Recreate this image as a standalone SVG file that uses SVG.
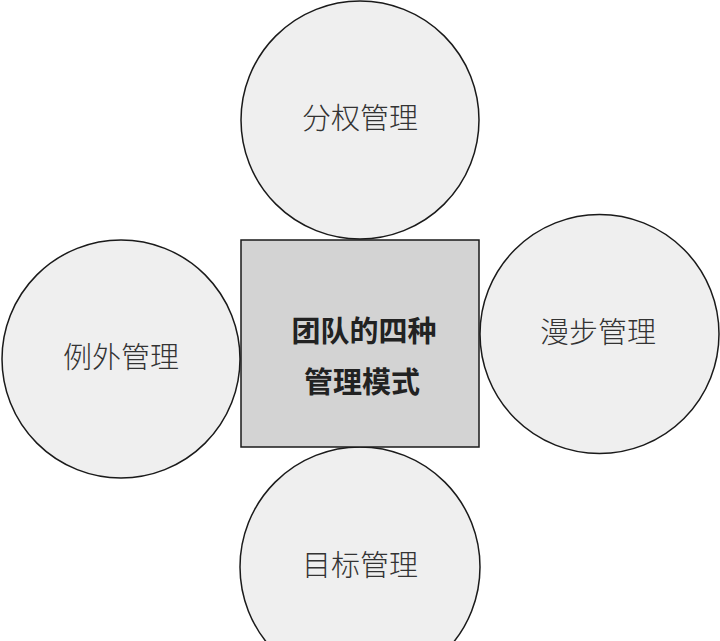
<svg xmlns="http://www.w3.org/2000/svg" width="720" height="641" viewBox="0 0 720 641">
  <style>
    .c { fill: #efefef; stroke: #1a1a1a; stroke-width: 1.5; }
    .r { fill: #d3d3d3; stroke: #1a1a1a; stroke-width: 1.5; }
    .t { font-family: "Noto Sans CJK SC", "Noto Sans", sans-serif; font-size: 29px; font-weight: 300; fill: #333; text-anchor: middle; }
    .b { font-family: "Noto Sans CJK SC", "Noto Sans", sans-serif; font-size: 29px; font-weight: 700; fill: #222; text-anchor: middle; }
  </style>
  <rect width="720" height="641" fill="#ffffff"/>
  <g id="connectors"></g>
  <g id="node-top">
    <circle class="c" cx="360" cy="120" r="119"/>
    <text class="t" x="360" y="129">分权管理</text>
  </g>
  <g id="node-left">
    <circle class="c" cx="121" cy="359" r="119"/>
    <text class="t" x="121" y="368">例外管理</text>
  </g>
  <g id="node-right">
    <circle class="c" cx="599.5" cy="334" r="119.5"/>
    <text class="t" x="598" y="343">漫步管理</text>
  </g>
  <g id="node-bottom">
    <circle class="c" cx="360" cy="567" r="120"/>
    <text class="t" x="360" y="576">目标管理</text>
  </g>
  <g id="node-center">
    <rect class="r" x="241" y="240" width="238" height="207"/>
    <text class="b" x="364" y="342">团队的四种</text>
    <text class="b" x="362" y="393">管理模式</text>
  </g>
</svg>
